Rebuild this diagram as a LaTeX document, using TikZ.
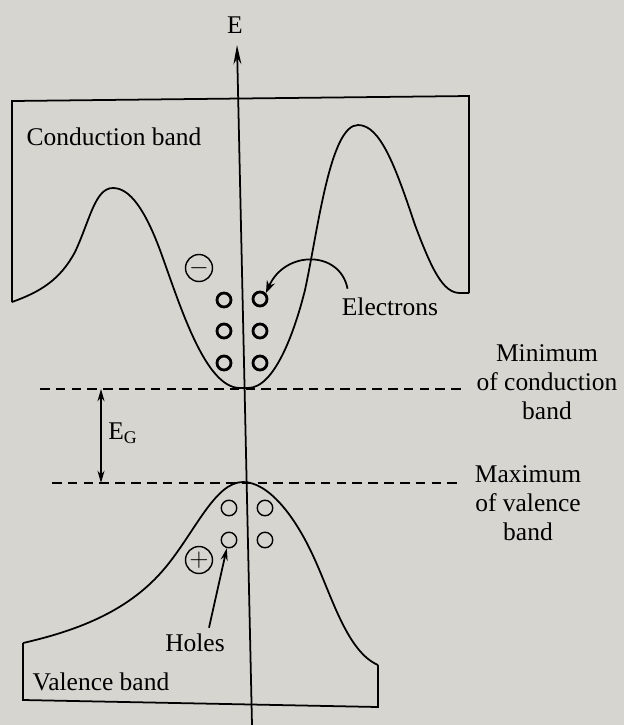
\documentclass[tikz,border=0pt]{standalone}
\usepackage{fontspec}
\setmainfont{Liberation Serif}
\usetikzlibrary{arrows.meta}
\definecolor{paper}{RGB}{214,213,208}
\tikzset{
  lbl/.style={font=\fontsize{14.5}{16.5}\selectfont, inner sep=0pt, align=center},
  elec/.style={circle, draw, line width=1.6pt, minimum size=0.28cm, inner sep=0pt},
  hole/.style={circle, draw, line width=0.8pt, minimum size=0.31cm, inner sep=0pt},
  charge/.style={circle, draw, line width=0.8pt, minimum size=0.54cm, inner sep=0pt, font=\fontsize{14}{14}\selectfont},
  level/.style={line width=1pt, dash pattern=on 5.5pt off 3.5pt},
  band/.style={line width=1pt}
}
\begin{document}
\begin{tikzpicture}[x=0.02cm,y=-0.02cm]
\fill[paper] (0,0) rectangle (624,725);
\useasboundingbox (0,0) rectangle (624,725);

% energy axis
\coordinate (axbot) at (252,725);
\coordinate (axtop) at (237,45);
\draw[band,-{Stealth[length=11pt,width=4.5pt]}] (axbot) -- (axtop);
\node[lbl] (elbl) at (235,25) {E};

% conduction band
\draw[band] (12,302) -- (12,101) -- (469,96) -- (469,293);
\draw[band] (12,302) .. controls (40,292) and (60,280) .. (75,252)
  .. controls (90,220) and (95,188) .. (113,188)
  .. controls (130,188) and (145,210) .. (160,250)
  .. controls (180,305) and (205,388) .. (240,388) -- (248,388)
  .. controls (275,388) and (295,330) .. (305,290)
  .. controls (318,230) and (330,125) .. (358,125)
  .. controls (380,125) and (395,165) .. (415,225)
  .. controls (432,270) and (443,293) .. (460,293) -- (469,293);
\node[lbl] (cb) at (114,137) {Conduction band};
\node[charge] (neg) at (199,268) {$-$};

% electrons
\node[elec] (e1) at (224,300) {};
\node[elec] (e2) at (260,299) {};
\node[elec] (e3) at (224,331) {};
\node[elec] (e4) at (260,331) {};
\node[elec] (e5) at (224,363) {};
\node[elec] (e6) at (260,363) {};
\node[lbl] (elec) at (390,307) {Electrons};
\draw[band,-{Stealth[length=7pt,width=5pt]}] ([xshift=0.12cm,yshift=0.18cm]elec.north west)
  .. controls (340,250) and (285,250) .. (e2.north east);

% band edges
\coordinate (cminl) at (40,389);
\coordinate (cminr) at (462,389);
\coordinate (vmaxl) at (52,483);
\coordinate (vmaxr) at (462,483);
\draw[level] (cminl) -- (cminr);
\draw[level] (vmaxl) -- (vmaxr);
\coordinate (gtop) at (101,389);
\coordinate (gbot) at (101,483);
\draw[band,{Stealth[length=7pt,width=4pt]}-{Stealth[length=7pt,width=4pt]}] (gtop) -- (gbot);
\node[lbl] (eg) at (123,433) {E\textsubscript{G}};
\node[lbl] (cmin) at (547,382) {Minimum\\of conduction\\band};
\node[lbl] (vmax) at (528,503) {Maximum\\of valence\\band};

% valence band
\draw[band] (23,643) -- (23,700) -- (378,707) -- (378,665);
\draw[band] (23,643) .. controls (80,630) and (130,610) .. (165,568)
  .. controls (195,532) and (215,482) .. (243,482)
  .. controls (268,482) and (295,515) .. (315,560)
  .. controls (333,600) and (348,652) .. (378,665);
\node[lbl] (vb) at (101,682) {Valence band};
\node[charge] (pos) at (199,560) {$+$};

% holes
\node[hole] (h1) at (229,508) {};
\node[hole] (h2) at (265,508) {};
\node[hole] (h3) at (229,540) {};
\node[hole] (h4) at (265,540) {};
\node[lbl] (holes) at (195,643) {Holes};
\draw[band,-{Stealth[length=7pt,width=4pt]}] ([xshift=0.28cm,yshift=0.12cm]holes.north) -- (h3.255);
\end{tikzpicture}
\end{document}
